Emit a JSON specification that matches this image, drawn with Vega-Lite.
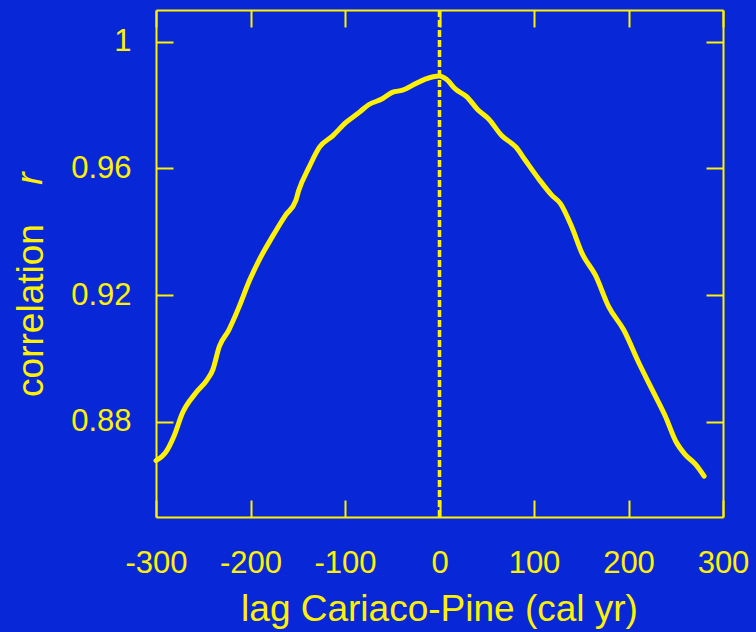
{
  "$schema": "https://vega.github.io/schema/vega-lite/v6.json",
  "width": 567,
  "height": 507,
  "autosize": {"type": "none"},
  "padding": {"left": 156, "top": 10, "right": 33, "bottom": 115},
  "background": "#0828d8",
  "config": {
    "view": {"stroke": null},
    "axis": {
      "domainColor": "#fff200",
      "domainWidth": 2,
      "tickColor": "#fff200",
      "tickWidth": 2,
      "tickSize": -17,
      "grid": false,
      "labelColor": "#fff200",
      "labelFont": "Liberation Sans",
      "labelFontSize": 31,
      "labelFlush": false,
      "labelOverlap": false,
      "labelBound": false,
      "titleColor": "#fff200",
      "titleFont": "Liberation Sans",
      "titleFontSize": 37,
      "titleFontWeight": "normal"
    }
  },
  "datasets": {
    "curve": [
      {"lag": -300, "r": 0.8678},
      {"lag": -290, "r": 0.8703},
      {"lag": -281, "r": 0.8755},
      {"lag": -272, "r": 0.8828},
      {"lag": -258, "r": 0.8891},
      {"lag": -246, "r": 0.8933},
      {"lag": -240, "r": 0.8964},
      {"lag": -233, "r": 0.9038},
      {"lag": -223, "r": 0.9090},
      {"lag": -212, "r": 0.9164},
      {"lag": -201, "r": 0.9247},
      {"lag": -191, "r": 0.9310},
      {"lag": -177, "r": 0.9384},
      {"lag": -163, "r": 0.9452},
      {"lag": -152, "r": 0.9499},
      {"lag": -149, "r": 0.9530},
      {"lag": -138, "r": 0.9604},
      {"lag": -127, "r": 0.9667},
      {"lag": -113, "r": 0.9703},
      {"lag": -99, "r": 0.9745},
      {"lag": -85, "r": 0.9777},
      {"lag": -75, "r": 0.9801},
      {"lag": -61, "r": 0.9819},
      {"lag": -50, "r": 0.9840},
      {"lag": -39, "r": 0.9847},
      {"lag": -25, "r": 0.9868},
      {"lag": -15, "r": 0.9882},
      {"lag": 0, "r": 0.9892},
      {"lag": 7, "r": 0.9882},
      {"lag": 17, "r": 0.9850},
      {"lag": 29, "r": 0.9826},
      {"lag": 40, "r": 0.9787},
      {"lag": 52, "r": 0.9756},
      {"lag": 66, "r": 0.9703},
      {"lag": 81, "r": 0.9667},
      {"lag": 91, "r": 0.9625},
      {"lag": 105, "r": 0.9567},
      {"lag": 119, "r": 0.9515},
      {"lag": 128, "r": 0.9489},
      {"lag": 140, "r": 0.9415},
      {"lag": 151, "r": 0.9331},
      {"lag": 165, "r": 0.9263},
      {"lag": 179, "r": 0.9164},
      {"lag": 195, "r": 0.9090},
      {"lag": 211, "r": 0.8986},
      {"lag": 225, "r": 0.8902},
      {"lag": 239, "r": 0.8818},
      {"lag": 250, "r": 0.8739},
      {"lag": 260, "r": 0.8697},
      {"lag": 271, "r": 0.8666},
      {"lag": 280, "r": 0.8629}
    ],
    "zero": [{"lag": 0}]
  },
  "layer": [
    {
      "data": {"name": "curve"},
      "mark": {"type": "line", "color": "#fff200", "strokeWidth": 5, "strokeJoin": "round", "strokeCap": "round", "interpolate": "monotone"},
      "encoding": {
        "x": {"field": "lag", "type": "quantitative",
              "scale": {"domain": [-300, 300], "nice": false, "zero": false},
              "axis": {"orient": "bottom", "values": [-300, -200, -100, 0, 100, 200, 300],
                       "labelExpr": "'' + datum.value", "labelPadding": 48,
                       "title": "lag Cariaco-Pine (cal yr)", "titleBaseline": "alphabetic", "titleY": 103, "titleX": 283}},
        "y": {"field": "r", "type": "quantitative",
              "scale": {"domain": [0.85, 1.01], "nice": false, "zero": false},
              "axis": {"orient": "left", "values": [0.88, 0.92, 0.96, 1.0],
                       "labelExpr": "'' + datum.value", "labelPadding": 42,
                       "title": "correlation", "titleAngle": -90, "titleBaseline": "alphabetic",
                       "titleAlign": "center", "titleX": -114, "titleY": 300}}
      }
    },
    {
      "data": {"name": "zero"},
      "mark": {"type": "rule", "color": "#fff200", "strokeWidth": 3.5, "strokeDash": [7, 3]},
      "encoding": {
        "x": {"field": "lag", "type": "quantitative",
              "scale": {"domain": [-300, 300], "nice": false, "zero": false},
              "axis": {"orient": "top", "values": [-300, -200, -100, 0, 100, 200, 300], "labels": false, "title": null}}
      }
    },
    {
      "data": {"name": "curve"},
      "mark": {"type": "line", "opacity": 0},
      "encoding": {
        "x": {"field": "lag", "type": "quantitative", "scale": {"domain": [-300, 300], "nice": false, "zero": false}, "axis": null},
        "y": {"field": "r", "type": "quantitative",
              "scale": {"domain": [0.85, 1.01], "nice": false, "zero": false},
              "axis": {"orient": "right", "values": [0.88, 0.92, 0.96, 1.0], "labels": false, "title": null}}
      }
    },
    {
      "data": {"name": "curve"},
      "mark": {"type": "line", "opacity": 0},
      "encoding": {
        "x": {"field": "lag", "type": "quantitative", "scale": {"domain": [-300, 300], "nice": false, "zero": false}, "axis": null},
        "y": {"field": "r", "type": "quantitative",
              "scale": {"domain": [0.85, 1.01], "nice": false, "zero": false},
              "axis": {"orient": "left", "labels": false, "ticks": false, "domain": false,
                       "title": "r", "titleFontStyle": "italic", "titleAngle": -90, "titleBaseline": "alphabetic",
                       "titleAlign": "center", "titleX": -115, "titleY": 168}}
      }
    }
  ],
  "resolve": {"axis": {"x": "independent", "y": "independent"}}
}
